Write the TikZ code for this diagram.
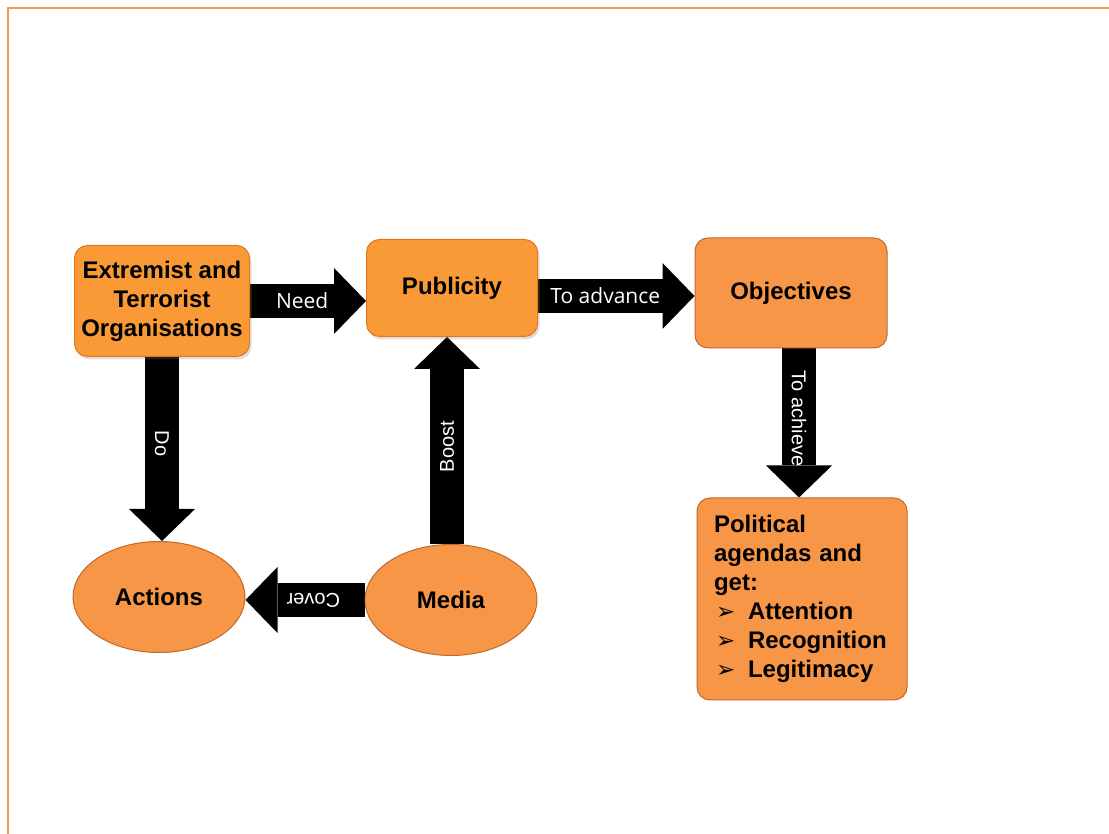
\documentclass[tikz,border=0pt]{standalone}
\usepackage{fontspec}
\setmainfont{Liberation Sans}
\newfontfamily\labelfont{Open Sans}
\newfontfamily\bulletfont{DejaVu Sans}
\usetikzlibrary{arrows.meta,shapes.geometric,shadows,backgrounds}

\definecolor{boxorange}{HTML}{F79646}
\definecolor{rimorange}{HTML}{BF6A2C}
\definecolor{lightorange}{HTML}{FBC07F}
\definecolor{midorange}{HTML}{F99A36}
\definecolor{darkorange}{HTML}{E2761A}
\definecolor{frameorange}{HTML}{F79A50}

\pgfdeclareverticalshading{bevel}{100bp}{color(0bp)=(darkorange); color(9bp)=(midorange);
    color(90bp)=(midorange); color(100bp)=(lightorange)}

\newcommand{\bul}{\makebox[34pt][l]{\hspace{2pt}{\bulletfont\fontsize{23}{29}\selectfont ➢}}}

\begin{document}
\begin{tikzpicture}[x=1pt, y=1pt,
    box/.style = {draw=rimorange, line width=1pt, fill=boxorange, rounded corners=13pt,
                  align=center, inner sep=0pt, font=\fontsize{24}{29}\selectfont\bfseries},
    shinybox/.style = {box, draw=darkorange, shading=bevel,
                  drop shadow={shadow xshift=2pt, shadow yshift=-3pt, opacity=0.25}},
    blob/.style = {ellipse, draw=rimorange, line width=1pt, fill=boxorange, inner sep=0pt,
                  minimum width=172pt, minimum height=111pt, font=\fontsize{24}{29}\selectfont\bfseries},
    bigarrow/.style = {line width=34pt, -{Triangle[width=66pt, length=32pt, line width=0pt]}},
    armlabel/.style = {text=white, inner sep=0pt, font=\fontsize{20}{24}\selectfont},
    softlabel/.style = {armlabel, font=\labelfont\fontsize{21}{25}\selectfont}]

    \useasboundingbox (0,0) rectangle (1109,834);
    \draw[frameorange, line width=2.5pt] (8,0) -- (8,826) -- (1109,826);

    \node[shinybox, minimum width=175pt, minimum height=111pt] (ext) at (162,533) {Extremist and\\Terrorist\\Organisations};
    \node[shinybox, minimum width=171pt, minimum height=97pt] (pub) at (452,546) {Publicity};
    \node[box, minimum width=192pt, minimum height=110pt] (obj) at (791,541) {Objectives};
    \node[box, minimum width=210pt, minimum height=202pt, align=left, text width=176pt, inner xsep=17pt]
        (pol) at (802,235) {Political\\agendas and\\get:\\\bul Attention\\\bul Recognition\\\bul Legitimacy};
    \node[blob] (act) at (159,237) {Actions};
    \node[blob] (med) at (451,234) {Media};

    \begin{scope}[on background layer]
        \draw[bigarrow] (ext.east) -- (ext.east -| pub.west)
            node[softlabel, pos=0.45] (need) {Need};
        \draw[bigarrow] ([yshift=-3pt]obj.west -| pub.east) -- ([yshift=-3pt]obj.west)
            node[softlabel, pos=0.43] (advance) {To advance};
        \draw[bigarrow] (ext.south) -- (ext.south |- act.north)
            node[armlabel, pos=0.47, rotate=-90] (do) {Do};
        \draw[bigarrow] ([xshift=-4pt]med.north) -- ([xshift=-4pt]med.north |- pub.south)
            node[armlabel, pos=0.47, rotate=90] (boost) {Boost};
        \draw[bigarrow] (med.west) -- (med.west -| act.east)
            node[armlabel, pos=0.43, rotate=180] (cover) {Cover};
        \draw[bigarrow] ([xshift=-3pt]obj.south -| pol.north) -- ([xshift=-3pt]pol.north)
            node[armlabel, pos=0.47, rotate=-90] (achieve) {To achieve};
    \end{scope}
\end{tikzpicture}
\end{document}
